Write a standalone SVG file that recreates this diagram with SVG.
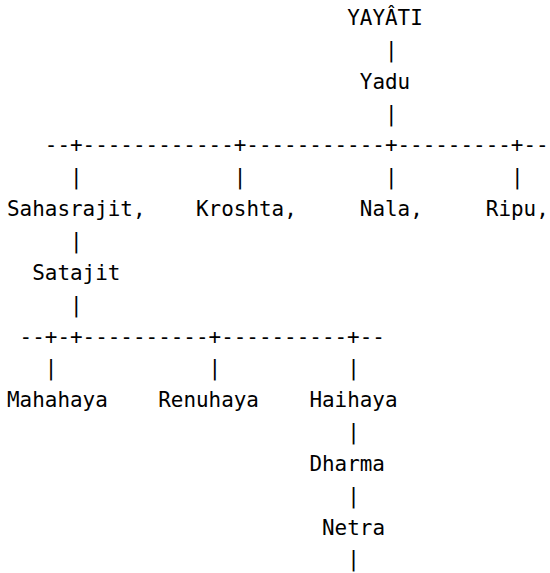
<svg xmlns="http://www.w3.org/2000/svg" width="550" height="573" viewBox="0 0 550 573">
<style>
text{font-family:"DejaVu Sans Mono","Liberation Mono",monospace;font-size:20.93px;fill:#000;white-space:pre}
</style>
<rect width="550" height="573" fill="#fff"/>
<g id="connectors">
<text x="385" y="56.85">|</text>
<text x="385" y="120.55">|</text>
<text x="44.8" y="152.4">--+------------+-----------+---------+--</text>
<text x="70" y="184.25">|</text>
<text x="233.8" y="184.25">|</text>
<text x="385" y="184.25">|</text>
<text x="511" y="184.25">|</text>
<text x="70" y="247.95">|</text>
<text x="70" y="311.65">|</text>
<text x="19.6" y="343.5">--+-+----------+----------+--</text>
<text x="44.8" y="375.35">|</text>
<text x="208.6" y="375.35">|</text>
<text x="347.2" y="375.35">|</text>
<text x="347.2" y="439.05">|</text>
<text x="347.2" y="502.75">|</text>
<text x="347.2" y="566.45">|</text>
</g>
<g id="yayati"><text x="347.2" y="25">YAYÂTI</text></g>
<g id="yadu"><text x="359.8" y="88.7">Yadu</text></g>
<g id="sahasrajit"><text x="7" y="216.1">Sahasrajit,</text></g>
<g id="kroshta"><text x="196" y="216.1">Kroshta,</text></g>
<g id="nala"><text x="359.8" y="216.1">Nala,</text></g>
<g id="ripu"><text x="485.8" y="216.1">Ripu,</text></g>
<g id="satajit"><text x="32.2" y="279.8">Satajit</text></g>
<g id="mahahaya"><text x="7" y="407.2">Mahahaya</text></g>
<g id="renuhaya"><text x="158.2" y="407.2">Renuhaya</text></g>
<g id="haihaya"><text x="309.4" y="407.2">Haihaya</text></g>
<g id="dharma"><text x="309.4" y="470.9">Dharma</text></g>
<g id="netra"><text x="322" y="534.6">Netra</text></g>
</svg>
